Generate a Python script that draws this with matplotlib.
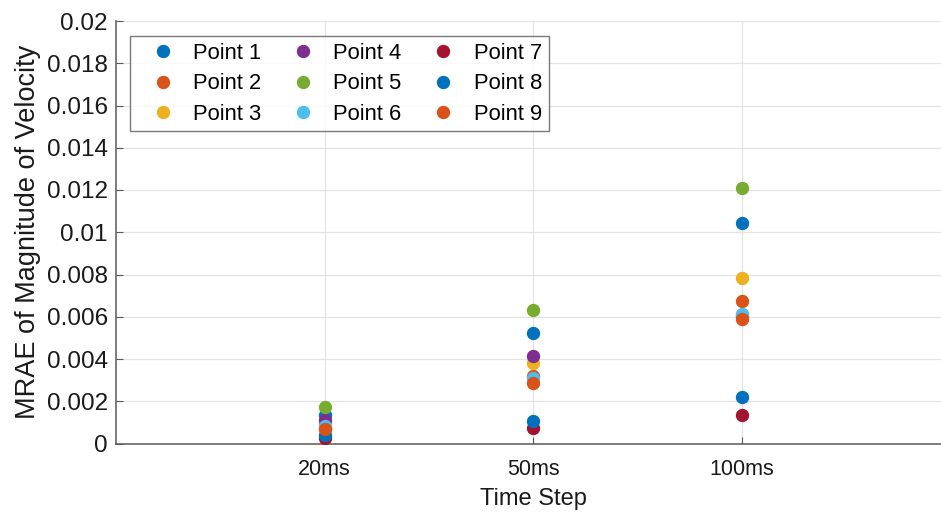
import numpy as np
import matplotlib.pyplot as plt

plt.rcParams['font.family'] = ['Liberation Sans', 'DejaVu Sans']

# time steps and MRAE values
steps = ['20ms', '50ms', '100ms']
point1 = [0.00135, 0.00522, 0.01045]
point2 = [0.00075, 0.00321, 0.00676]
point3 = [0.00097, 0.00383, 0.00785]
point4 = [0.00111, 0.00416, 0.00605]
point5 = [0.00172, 0.00632, 0.01208]
point6 = [0.00085, 0.00309, 0.00613]
point7 = [0.00025, 0.00073, 0.00135]
point8 = [0.00040, 0.00107, 0.00222]
point9 = [0.00070, 0.00285, 0.00589]

series = [point1, point2, point3, point4, point5, point6, point7, point8, point9]
names = ['Point %d' % (i + 1) for i in range(len(series))]

# MATLAB default colour order
colors = ['#0072BD', '#D95319', '#EDB120', '#7E2F8E', '#77AC30',
          '#4DBEEE', '#A2142F', '#0072BD', '#D95319']

fig = plt.figure(figsize=(9.41, 5.17), dpi=100)
ax = fig.add_axes([116 / 941, 73.5 / 517, 834 / 941, 422.5 / 517])

xpos = np.arange(1, len(steps) + 1)
for vals, name, c in zip(series, names, colors):
    ax.plot(xpos, vals, 'o', color=c, markersize=8.6, label=name, zorder=3)

ax.set_xlim(0, 4)
ax.set_ylim(0, 0.02)
ax.set_xticks(xpos)
ax.set_xticklabels(steps)
yt = np.arange(0, 0.0201, 0.002)
ax.set_yticks(yt)
ax.set_yticklabels(['%g' % round(v, 4) for v in yt])

ax.grid(True, color='#e3e3e3', linewidth=0.9, zorder=0)
ax.set_axisbelow(True)
for s in ['top', 'right']:
    ax.spines[s].set_visible(False)
for s in ['left', 'bottom']:
    ax.spines[s].set_color('#595959')
    ax.spines[s].set_linewidth(1.1)

ax.tick_params(axis='both', direction='in', length=5, color='#595959', labelcolor='#1a1a1a')
ax.tick_params(axis='x', labelsize=15.5, pad=11)
ax.tick_params(axis='y', labelsize=17.5, pad=6)

ax.set_xlabel('Time Step', fontsize=17, color='#1a1a1a', labelpad=6)
ax.set_ylabel('MRAE of Magnitude of Velocity', fontsize=19.5, color='#1a1a1a', labelpad=4)

leg = ax.legend(ncol=3, loc='upper left', bbox_to_anchor=(130 / 941, 1 - 36 / 517),
                bbox_transform=fig.transFigure, borderaxespad=0, fontsize=15.8,
                frameon=True, fancybox=False, borderpad=0.3, handlelength=2.4,
                handletextpad=0.18, columnspacing=0.7, labelspacing=0.44)
leg.get_frame().set_edgecolor('#595959')
leg.get_frame().set_linewidth(1.0)

fig.savefig('out.png', dpi=100)
